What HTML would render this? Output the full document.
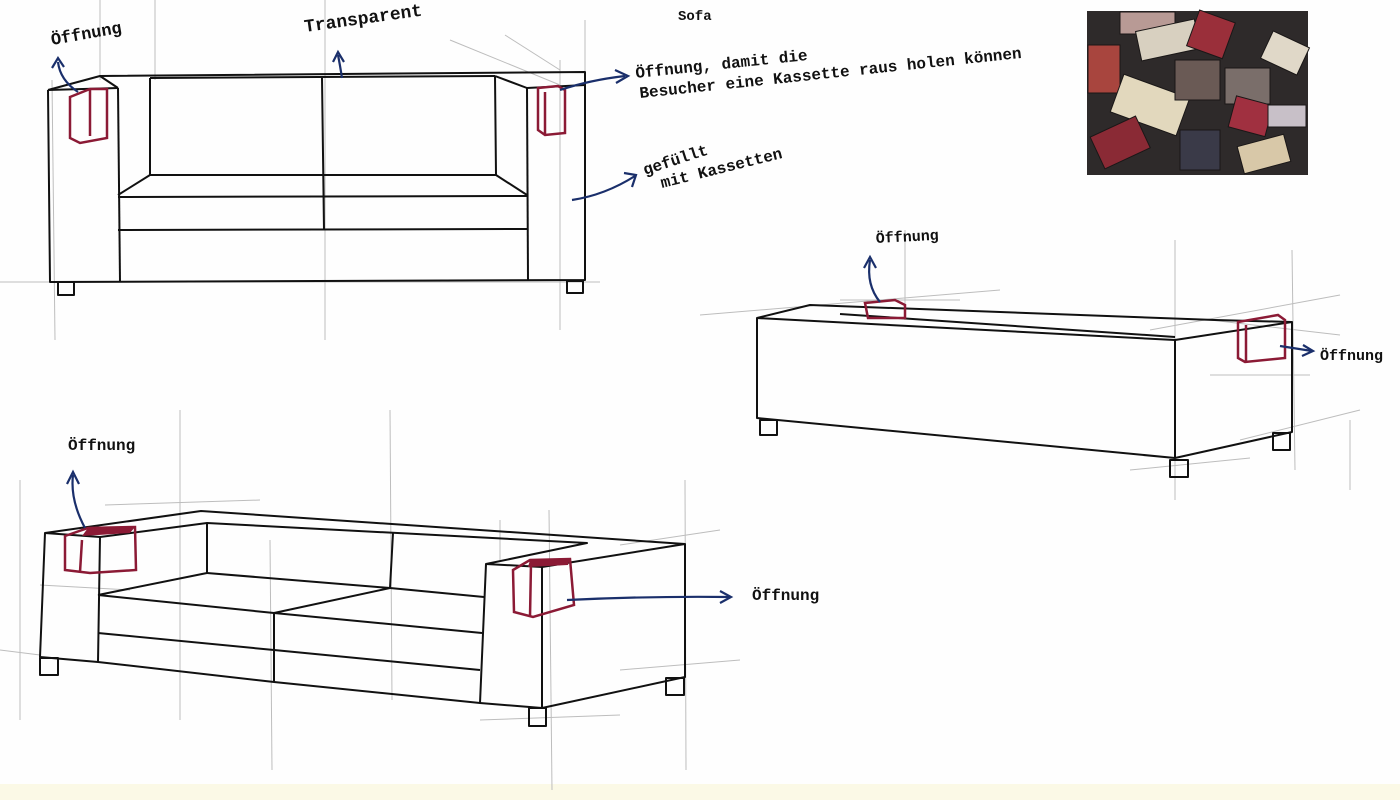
<!DOCTYPE html>
<html><head><meta charset="utf-8"><style>
html,body{margin:0;padding:0;background:#fff}
svg{display:block}
text{font-family:"Liberation Mono","DejaVu Sans Mono",monospace;fill:#111;font-weight:bold}
</style></head><body>
<svg width="1400" height="800" viewBox="0 0 1400 800" xmlns="http://www.w3.org/2000/svg">
<rect width="1400" height="800" fill="#fefefe"/>
<rect y="784" width="1400" height="16" fill="#fbf9e6"/>
<g stroke="#bdbdbd" stroke-width="1" fill="none">
<line x1="155" y1="0" x2="155" y2="80"/><line x1="325" y1="0" x2="325" y2="340"/><line x1="585" y1="20" x2="585" y2="80"/>
<line x1="52" y1="80" x2="55" y2="340"/><line x1="100" y1="0" x2="100" y2="80"/><line x1="560" y1="60" x2="560" y2="330"/>
<line x1="0" y1="282" x2="600" y2="282"/><line x1="450" y1="40" x2="560" y2="85"/><line x1="505" y1="35" x2="560" y2="70"/>
<line x1="905" y1="230" x2="905" y2="320"/><line x1="1175" y1="240" x2="1175" y2="500"/><line x1="1292" y1="250" x2="1295" y2="470"/>
<line x1="700" y1="315" x2="1000" y2="290"/><line x1="840" y1="300" x2="960" y2="300"/><line x1="1150" y1="330" x2="1340" y2="295"/>
<line x1="1210" y1="320" x2="1340" y2="335"/><line x1="1130" y1="470" x2="1250" y2="458"/><line x1="1240" y1="440" x2="1360" y2="410"/>
<line x1="1210" y1="375" x2="1310" y2="375"/><line x1="1350" y1="420" x2="1350" y2="490"/>
<line x1="180" y1="410" x2="180" y2="720"/><line x1="270" y1="540" x2="272" y2="770"/><line x1="390" y1="410" x2="392" y2="700"/>
<line x1="500" y1="520" x2="500" y2="560"/><line x1="549" y1="510" x2="552" y2="790"/><line x1="685" y1="480" x2="686" y2="770"/>
<line x1="0" y1="650" x2="40" y2="655"/><line x1="105" y1="505" x2="260" y2="500"/><line x1="40" y1="585" x2="130" y2="590"/>
<line x1="480" y1="720" x2="620" y2="715"/><line x1="620" y1="670" x2="740" y2="660"/><line x1="620" y1="545" x2="720" y2="530"/>
<line x1="20" y1="480" x2="20" y2="720"/>
</g>
<g stroke="#111" stroke-width="2" fill="none" stroke-linejoin="round">
<path d="M48 90 L100 76 L585 72 L585 85 L527 88"/>
<line x1="48" y1="90" x2="118" y2="88"/>
<path d="M48 90 L50 282 L585 280 L585 85"/>
<path d="M118 88 L120 282"/><path d="M100 76 L118 88"/>
<path d="M527 88 L528 280"/><path d="M527 88 L495 76"/>
<path d="M150 78 L150 175 M322 78 L324 230 M495 76 L496 175"/>
<path d="M150 78 L495 76"/>
<path d="M118 195 L150 175 L496 175 L527 195"/>
<line x1="118" y1="197" x2="527" y2="196"/>
<line x1="118" y1="230" x2="527" y2="229"/>
<rect x="58" y="282" width="16" height="13"/><rect x="567" y="281" width="16" height="12"/>
</g>
<g stroke="#111" stroke-width="2" fill="none" stroke-linejoin="round">
<path d="M757 318 L810 305 L1215 320 L1292 322"/>
<path d="M757 318 L1175 340 L1292 322 L1292 432 L1175 458 L757 418 Z"/>
<line x1="1175" y1="340" x2="1175" y2="458"/>
<line x1="840" y1="314" x2="1175" y2="337"/>
<rect x="760" y="420" width="17" height="15"/><rect x="1170" y="460" width="18" height="17"/><rect x="1273" y="433" width="17" height="17"/>
</g>
<g stroke="#111" stroke-width="2" fill="none" stroke-linejoin="round">
<path d="M45 533 L201 511 L685 544 L542 567 L486 564 L587 543 L207 523 L100 537 Z"/>
<path d="M45 533 L40 657 L98 662 L100 537"/>
<path d="M207 523 L207 573 L98 595"/>
<path d="M207 573 L390 588 L274 613 L98 595"/>
<path d="M393 533 L390 588 L484 597"/>
<path d="M274 613 L274 682 M274 613 L482 633"/>
<path d="M98 633 L274 650 L480 670"/>
<path d="M98 662 L274 682 L480 703"/>
<path d="M486 564 L480 703 L542 708 L685 677 L685 544"/>
<path d="M542 567 L542 708"/>
<rect x="40" y="658" width="18" height="17"/><rect x="529" y="708" width="17" height="18"/><rect x="666" y="678" width="18" height="17"/>
</g>
<g stroke="#8b1a35" stroke-width="2.5" fill="none">
<path d="M70 97 L90 89 L107 89 L107 138 L80 143 L70 138 Z M90 89 L90 136"/>
<path d="M538 88 L558 86 L565 90 L565 133 L545 135 L538 130 Z M545 92 L545 134"/>
<path d="M865 303 L895 300 L905 305 L905 318 L868 318 Z"/>
<path d="M1238 322 L1278 315 L1285 320 L1285 358 L1245 362 L1238 358 Z M1246 325 L1246 362"/>
<path d="M65 536 L88 528 L135 527 L136 570 L90 573 L65 570 Z M82 540 L80 572"/>
<path d="M513 570 L530 560 L570 559 L574 605 L533 617 L514 612 Z M531 563 L530 617"/>
</g>
<g fill="#8b1a35"><path d="M88 528 L135 527 L130 533 L82 536Z"/><path d="M530 560 L570 559 L568 565 L528 567Z"/></g>
<g stroke="#1a2f6b" stroke-width="2.2" fill="none">
<path d="M78 92 Q60 80 58 62"/><path d="M52 68 L58 58 L64 67"/>
<path d="M342 78 Q340 65 338 55"/><path d="M333 62 L338 52 L344 62"/>
<path d="M560 90 Q590 80 625 76"/><path d="M615 70 L628 76 L616 83"/>
<path d="M572 200 Q605 195 635 176"/><path d="M624 173 L636 175 L632 187"/>
<path d="M880 302 Q866 285 870 260"/><path d="M864 268 L870 257 L876 268"/>
<path d="M1280 346 L1312 351"/><path d="M1303 345 L1313 351 L1302 356"/>
<path d="M85 528 Q70 500 73 475"/><path d="M67 484 L73 472 L79 484"/>
<path d="M567 600 Q650 596 730 597"/><path d="M720 591 L731 597 L720 603"/>
</g>
<text x="52" y="45" font-size="17" transform="rotate(-10 52 45)">Öffnung</text>
<text x="305" y="32" font-size="18" transform="rotate(-8 305 32)">Transparent</text>
<text x="678" y="20" font-size="14">Sofa</text>
<text x="636" y="78" font-size="16" transform="rotate(-6 636 78)">Öffnung, damit die</text>
<text x="640" y="98" font-size="16" transform="rotate(-6 640 98)">Besucher eine Kassette raus holen können</text>
<text x="645" y="175" font-size="16" transform="rotate(-18 645 175)">gefüllt</text>
<text x="662" y="188" font-size="16" transform="rotate(-14 662 188)">mit Kassetten</text>
<text x="876" y="243" font-size="15" transform="rotate(-3 876 243)">Öffnung</text>
<text x="1320" y="360" font-size="15">Öffnung</text>
<text x="68" y="450" font-size="16">Öffnung</text>
<text x="752" y="600" font-size="16">Öffnung</text>
<g>
<rect x="1087" y="11" width="221" height="164" fill="#2e2a2a"/>
<g stroke="#1a1717" stroke-width="1">
<rect x="1088" y="45" width="32" height="48" fill="#a8453e"/>
<rect x="1120" y="12" width="55" height="22" fill="#b89a95"/>
<rect x="1138" y="25" width="60" height="30" fill="#d8d0c0" transform="rotate(-12 1168 40)"/>
<rect x="1192" y="15" width="38" height="38" fill="#9a2f3a" transform="rotate(20 1210 34)"/>
<rect x="1265" y="38" width="40" height="30" fill="#e0d8c8" transform="rotate(25 1285 53)"/>
<rect x="1115" y="85" width="70" height="40" fill="#e2d8bd" transform="rotate(20 1150 105)"/>
<rect x="1175" y="60" width="45" height="40" fill="#6a5a55"/>
<rect x="1225" y="68" width="45" height="36" fill="#7a6e6a"/>
<rect x="1232" y="100" width="38" height="32" fill="#a03040" transform="rotate(15 1250 115)"/>
<rect x="1095" y="125" width="50" height="35" fill="#8a2a35" transform="rotate(-25 1120 142)"/>
<rect x="1240" y="140" width="48" height="28" fill="#d8c8a8" transform="rotate(-15 1264 154)"/>
<rect x="1268" y="105" width="38" height="22" fill="#c8c0c8"/>
<rect x="1180" y="130" width="40" height="40" fill="#3a3a48"/>
</g>
</g>
</svg>
</body></html>
